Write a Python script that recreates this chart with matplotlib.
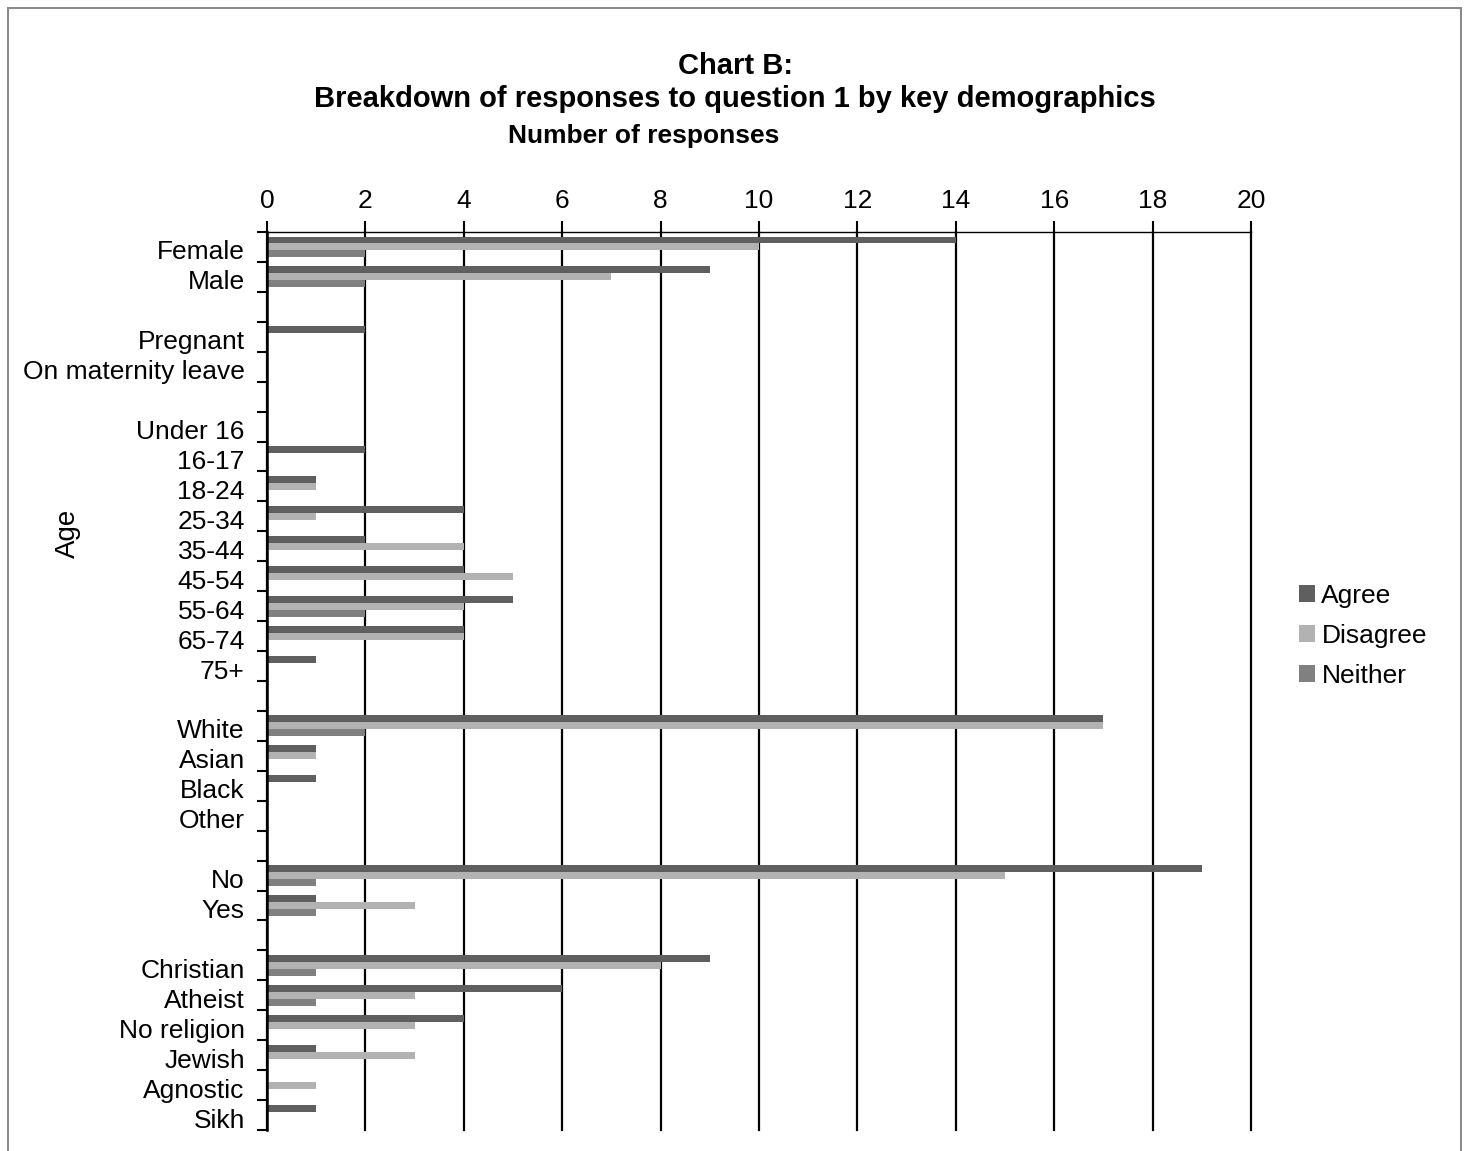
import matplotlib
matplotlib.use("Agg")
import matplotlib.pyplot as plt
from matplotlib.patches import Patch, Rectangle
from matplotlib.transforms import ScaledTranslation
import numpy as np

plt.rcParams['font.family'] = ['Liberation Sans', 'DejaVu Sans']

categories = ["Female", "Male", "", "Pregnant", "On maternity leave", "",
              "Under 16", "16-17", "18-24", "25-34", "35-44", "45-54", "55-64", "65-74", "75+", "",
              "White", "Asian", "Black", "Other", "",
              "No", "Yes", "",
              "Christian", "Atheist", "No religion", "Jewish", "Agnostic", "Sikh"]
agree =    [14, 9, 0, 2, 0, 0, 0, 2, 1, 4, 2, 4, 5, 4, 1, 0, 17, 1, 1, 0, 0, 19, 1, 0, 9, 6, 4, 1, 0, 1]
disagree = [10, 7, 0, 0, 0, 0, 0, 0, 1, 1, 4, 5, 4, 4, 0, 0, 17, 1, 0, 0, 0, 15, 3, 0, 8, 3, 3, 3, 1, 0]
neither =  [2, 2, 0, 0, 0, 0, 0, 0, 0, 0, 0, 0, 2, 0, 0, 0, 2, 0, 0, 0, 0, 1, 1, 0, 1, 1, 0, 0, 0, 0]
series_names = ["Agree", "Disagree", "Neither"]
colors = ["#5f5f5f", "#b2b2b2", "#808080"]
xticks = [0, 2, 4, 6, 8, 10, 12, 14, 16, 18, 20]

W, H = 1469, 1151
fig = plt.figure(figsize=(W / 100, H / 100), dpi=100)
ax = fig.add_axes([267 / W, 1 - 1130 / H, (1251 - 267) / W, (1130 - 232) / H])

y = np.arange(len(categories))
h = 0.233
for vals, off, c in zip([agree, disagree, neither], [-h, 0, h], colors):
    ax.barh(y + off, vals, height=h, color=c, zorder=3, linewidth=0)

ax.set_xlim(0, 20)
ax.set_ylim(len(categories) - 0.5, -0.5)
ax.set_xticks(xticks)
ax.set_xticklabels([str(t) for t in xticks], fontsize=19)
ax.xaxis.tick_top()
ax.tick_params(axis='x', direction='out', length=8, width=1.5, pad=6, color='black')
ax.grid(axis='x', color='black', linewidth=1.6, zorder=1)
for gl in ax.get_xgridlines():
    gl.set_clip_on(False)

ax.set_yticks(y)
ax.set_yticklabels(categories, fontsize=19)
ax.tick_params(axis='y', which='major', length=0, pad=16)
ax.set_yticks(np.arange(len(categories) + 1) - 0.5, minor=True)
ax.tick_params(axis='y', which='minor', length=7, width=1.5, direction='out', color='black')
shift = ScaledTranslation(0, -3 / 100, fig.dpi_scale_trans)
for lbl in ax.get_yticklabels():
    lbl.set_transform(lbl.get_transform() + shift)

for s in ['right', 'bottom']:
    ax.spines[s].set_visible(False)
ax.spines['left'].set_linewidth(1.8)
ax.spines['top'].set_linewidth(1.0)
ax.spines['left'].set_zorder(4)

fig.text(735 / W, 1 - 66 / H, "Chart B:", ha='center', va='center', fontsize=21, fontweight='bold')
fig.text(735 / W, 1 - 99 / H, "Breakdown of responses to question 1 by key demographics",
         ha='center', va='center', fontsize=21, fontweight='bold')
fig.text(644 / W, 1 - 136 / H, "Number of responses", ha='center', va='center',
         fontsize=19, fontweight='bold')
fig.text(68 / W, 1 - 533 / H, "Age", ha='center', va='center', rotation=90, fontsize=20)

handles = [Patch(facecolor=c, edgecolor='none') for c in colors]
fig.legend(handles, series_names, loc='center left', bbox_to_anchor=(1299 / W, 1 - 636 / H),
           frameon=False, fontsize=19, handlelength=0.6, handleheight=0.6,
           handletextpad=0.25, labelspacing=0.6, borderaxespad=0, borderpad=0)

fig.patches.append(Rectangle((8 / W, -0.05), (1461 - 8) / W, 1.05 - 8 / H,
                             transform=fig.transFigure, fill=False,
                             edgecolor='#8c8c8c', linewidth=1.5))

fig.savefig("out.png", dpi=100)
